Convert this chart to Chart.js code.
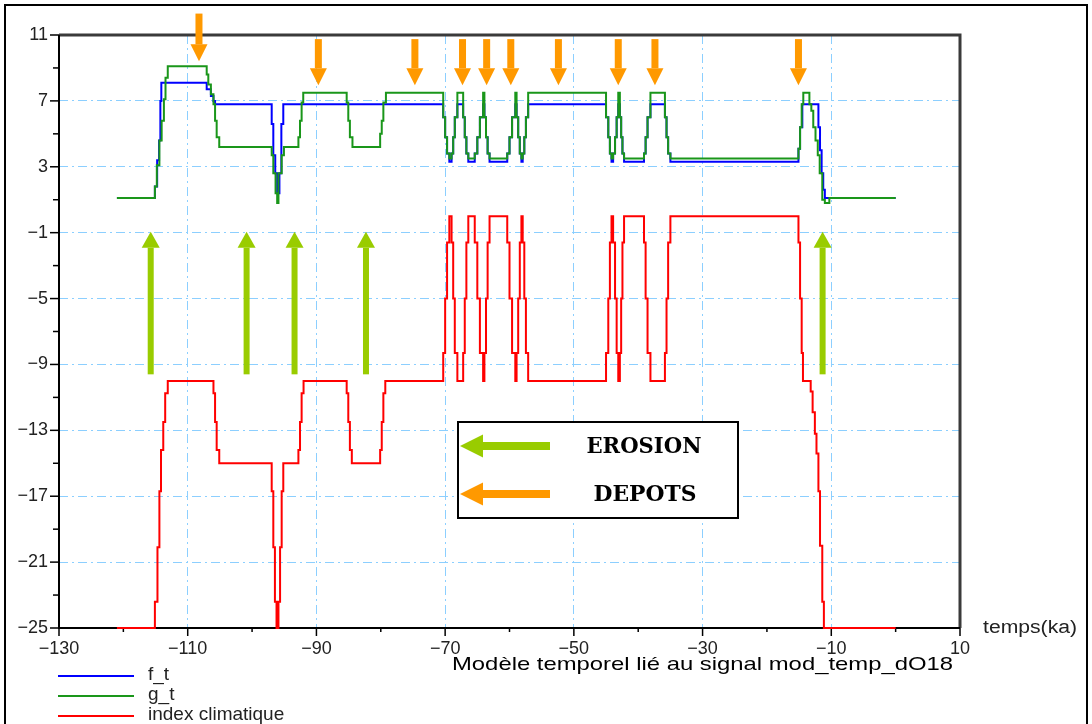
<!DOCTYPE html>
<html>
<head>
<meta charset="utf-8">
<title>Modèle temporel lié au signal mod_temp_dO18</title>
<script src="https://cdn.jsdelivr.net/npm/chart.js@4.4.1/dist/chart.umd.min.js"></script>
<style>
  html, body { margin: 0; padding: 0; background: #fff; }
  #wrap { width: 1092px; height: 724px; position: relative; }
</style>
</head>
<body>
<div id="wrap"><canvas id="chart" width="1092" height="724"></canvas></div>
<script>

// index climatique (red), step breakpoints: value holds from t until next t
const idxT = [-121, -115.1, -114.7, -114.4, -114.15, -113.8, -113.5, -113.1,
    -106.0, -105.75, -105.5, -105.1, -96.95, -96.7, -96.45, -96.2, -95.9, -95.65, -95.4, -95.15,
    -92.8, -92.55, -92.3, -92.0, -85.3, -85.05, -84.8, -84.5, -80.1, -79.85, -79.6, -79.3,
    -70.3, -70.0, -69.7, -69.35, -69.0, -68.75, -68.5, -68.1,
    -67.2, -66.95, -66.7, -66.4, -65.4, -65.0, -64.6, -64.1, -63.9, -63.65, -63.4, -63.1,
    -60.35, -60.0, -59.6, -59.1, -58.9, -58.65, -58.4, -58.15, -57.95, -57.7, -57.45, -57.1,
    -45.0, -44.65, -44.4, -44.15, -43.9, -43.6, -43.35, -43.1, -42.85, -42.65, -42.45, -42.2,
    -39.1, -38.85, -38.55, -38.1, -35.85, -35.6, -35.35, -35.0,
    -15.1, -14.85, -14.6, -14.4, -13.2, -12.9, -12.55, -12.3, -12.0, -11.75, -11.4, -11.15, 0]
const idxV = [-25, -23.4, -20.1, -16.7, -14.2, -12.5, -10.75, -10,
    -10.75, -12.5, -14.2, -15, -16.7, -20.1, -23.4, -25, -23.4, -20.1, -16.7, -15,
    -14.2, -12.5, -10.75, -10, -10.75, -12.5, -14.2, -15, -14.2, -12.5, -10.75, -10,
    -8.3, -5, -1.6, 0, -1.6, -5, -8.3, -10,
    -8.3, -5, -1.6, 0, -1.6, -5, -8.3, -10, -8.3, -5, -1.6, 0,
    -1.6, -5, -8.3, -10, -8.3, -5, -1.6, 0, -1.6, -5, -8.3, -10,
    -8.3, -5, -1.6, 0, -1.6, -5, -8.3, -10, -8.3, -5, -1.6, 0,
    -1.6, -5, -8.3, -10, -8.3, -5, -1.6, 0,
    -1.6, -5, -8.3, -10, -10.65, -11.9, -13.2, -14.4, -16.7, -20.0, -23.4, -25, -25]

// g_t (green)
const gT = [-121, -115.1, -114.8, -114.4, -114.05, -113.7, -113.45, -113.1,
    -107.05, -106.8, -106.4, -106.0, -105.75, -105.5, -105.1,
    -96.95, -96.7, -96.35, -96.1, -95.9, -95.4, -95.05,
    -92.8, -92.55, -92.3, -92.05, -85.3, -85.05, -84.8, -84.4, -80.1, -79.85, -79.6, -79.2,
    -70.3, -70.0, -69.7, -69.35, -69.0, -68.75, -68.5, -68.1,
    -67.2, -66.95, -66.7, -66.4, -65.4, -65.0, -64.6, -64.1, -63.9, -63.65, -63.4, -63.1,
    -60.35, -60.0, -59.6, -59.1, -58.9, -58.65, -58.4, -58.15, -57.95, -57.7, -57.45, -57.1,
    -45.0, -44.65, -44.4, -44.15, -43.9, -43.6, -43.35, -43.1, -42.85, -42.65, -42.45, -42.2,
    -39.1, -38.85, -38.55, -38.1, -35.85, -35.6, -35.35, -35.0,
    -15.1, -14.85, -14.6, -14.35, -13.4, -13.1, -12.8, -12.45, -12.1, -11.8, -11.4, -11.0, -10.3, 0]
const gV = [1.1, 1.8, 3.1, 4.6, 5.8, 7.1, 8.4, 9.1,
    8.6, 8.0, 7.4, 6.8, 5.8, 4.8, 4.2,
    3.7, 2.6, 1.4, 0.8, 2.6, 3.7, 4.2,
    4.8, 5.8, 6.9, 7.5, 6.9, 5.8, 4.8, 4.2, 5.0, 5.8, 6.9, 7.5,
    6.0, 4.8, 3.8, 3.5, 3.8, 4.8, 6.0, 7.5,
    6.0, 4.8, 3.8, 3.5, 3.8, 4.8, 6.0, 7.5, 6.0, 4.8, 3.8, 3.5,
    3.8, 4.8, 6.0, 7.5, 6.0, 4.8, 3.8, 3.5, 3.8, 4.8, 6.0, 7.5,
    6.0, 4.8, 3.8, 3.5, 3.8, 4.8, 6.0, 7.5, 6.0, 4.8, 3.8, 3.5,
    3.8, 4.8, 6.0, 7.5, 6.0, 4.8, 3.8, 3.5,
    4.1, 5.4, 6.8, 7.5, 6.8, 6.4, 5.4, 4.6, 3.7, 2.6, 1.0, 0.8, 1.1, 1.1]

// f_t (blue)
const fT = [-121, -115.1, -114.75, -114.45, -114.25, -114.1,
    -107.05, -106.4, -106.0, -105.75,
    -96.95, -96.7, -96.4, -96.1, -95.75, -95.45, -95.15,
    -70.3, -70.0, -69.7, -69.35, -69.0, -68.75, -68.5, -68.1,
    -67.2, -66.95, -66.7, -66.4, -65.4, -65.0, -64.6, -64.1, -63.9, -63.65, -63.4, -63.1,
    -60.35, -60.0, -59.6, -59.1, -58.9, -58.65, -58.4, -58.15, -57.95, -57.7, -57.45, -57.1,
    -45.0, -44.65, -44.4, -44.15, -43.9, -43.6, -43.35, -43.1, -42.85, -42.65, -42.45, -42.2,
    -39.1, -38.85, -38.55, -38.1, -35.85, -35.6, -35.35, -35.0,
    -15.1, -14.85, -14.5, -12.0, -11.75, -11.5, -11.25, -11.0, 0]
const fV = [1.1, 1.8, 3.4, 4.6, 7.0, 8.1,
    7.7, 7.3, 7.0, 6.8,
    5.6, 3.7, 2.6, 1.4, 2.6, 5.6, 6.8,
    6.0, 4.8, 3.8, 3.3, 3.8, 4.8, 6.0, 6.8,
    6.0, 4.8, 3.8, 3.3, 3.8, 4.8, 6.0, 6.8, 6.0, 4.8, 3.8, 3.3,
    3.8, 4.8, 6.0, 6.8, 6.0, 4.8, 3.8, 3.3, 3.8, 4.8, 6.0, 6.8,
    6.0, 4.8, 3.8, 3.3, 3.8, 4.8, 6.0, 6.8, 6.0, 4.8, 3.8, 3.3,
    3.8, 4.8, 6.0, 6.8, 6.0, 4.8, 3.8, 3.3,
    4.1, 5.4, 6.8, 5.4, 4.0, 2.6, 1.6, 1.1, 1.1]

// arrows: DEPOTS (orange, pointing down) and EROSION (green, pointing up)
const depotT = [-108.25, -89.7, -74.7, -67.3, -63.55, -59.8, -52.4, -43.1, -37.4, -15.1]
const depotTop = [12.3, 10.75, 10.75, 10.75, 10.75, 10.75, 10.75, 10.75, 10.75, 10.75]
const depotTip = [9.4, 7.95, 7.95, 7.95, 7.95, 7.95, 7.95, 7.95, 7.95, 7.95]
const erosionT = [-115.75, -100.85, -93.4, -82.3, -11.35]
const erosionTail = -9.6
const erosionTip = -0.95

const seriesNames = ["f_t", "g_t", "index climatique"]
const seriesColors = ["#0000ff", "#1a961a", "#ff0000"]

const toPoints = (ts, vs) => ts.map((t, i) => ({ x: t, y: vs[i] }))

const minus = (v) => v < 0 ? "\u2212" + Math.abs(v) : String(v)
const xLabeled = (v) => (v + 130) % 20 === 0
const yLabeled = (v) => (v - 11) % 4 === 0

// vertical block arrow
const drawVArrow = (ctx, x, yTail, yTip, shaft, headW, headLen, color) => {
    const dir = yTip > yTail ? 1 : -1
    const yBase = yTip - dir * headLen
    ctx.fillStyle = color
    ctx.fillRect(x - shaft / 2, Math.min(yTail, yBase), shaft, Math.abs(yBase - yTail))
    ctx.beginPath()
    ctx.moveTo(x - headW / 2, yBase)
    ctx.lineTo(x + headW / 2, yBase)
    ctx.lineTo(x, yTip)
    ctx.closePath()
    ctx.fill()
}

// left pointing block arrow
const drawLArrow = (ctx, xTip, xTail, y, shaft, headH, headLen, color) => {
    ctx.fillStyle = color
    ctx.fillRect(xTip + headLen, y - shaft / 2, xTail - xTip - headLen, shaft)
    ctx.beginPath()
    ctx.moveTo(xTip + headLen, y - headH / 2)
    ctx.lineTo(xTip + headLen, y + headH / 2)
    ctx.lineTo(xTip, y)
    ctx.closePath()
    ctx.fill()
}

// text squeezed/stretched to a given width
const fitText = (ctx, text, x, y, width, align) => {
    const w = ctx.measureText(text).width
    ctx.save()
    ctx.translate(x, y)
    ctx.scale(width / w, 1)
    ctx.textAlign = align
    ctx.fillText(text, 0, 0)
    ctx.restore()
}

const decorPlugin = {
    id: "decor",
    // axes and frame go under the curves, like in the original plot
    beforeDatasetsDraw: (chart) => {
        const ctx = chart.ctx
        const xs = chart.scales.x
        const ys = chart.scales.y
        const area = chart.chartArea

        ctx.save()
        ctx.strokeStyle = "#3a3a3a"
        ctx.lineWidth = 3
        ctx.beginPath()
        ctx.moveTo(area.left, area.top)
        ctx.lineTo(area.right, area.top)
        ctx.lineTo(area.right, area.bottom)
        ctx.stroke()
        ctx.strokeStyle = "#000"
        ctx.lineWidth = 2
        ctx.beginPath()
        ctx.moveTo(area.left, area.top)
        ctx.lineTo(area.left, area.bottom)
        ctx.lineTo(area.right, area.bottom)
        ctx.stroke()

        // tick marks
        ctx.lineWidth = 1.5
        ys.ticks.forEach((tk) => {
            const y = ys.getPixelForValue(tk.value)
            const len = yLabeled(tk.value) ? 9 : 6
            ctx.beginPath()
            ctx.moveTo(area.left - len, y)
            ctx.lineTo(area.left, y)
            ctx.stroke()
        })
        xs.ticks.forEach((tk) => {
            const x = xs.getPixelForValue(tk.value)
            const len = xLabeled(tk.value) ? 8 : 4
            ctx.beginPath()
            ctx.moveTo(x, area.bottom)
            ctx.lineTo(x, area.bottom + len)
            ctx.stroke()
        })
        ctx.restore()
    },
    afterDatasetsDraw: (chart) => {
        const ctx = chart.ctx
        const xs = chart.scales.x
        const ys = chart.scales.y

        ctx.save()

        // orange arrows at the top
        depotT.forEach((t, i) => {
            drawVArrow(ctx, xs.getPixelForValue(t), ys.getPixelForValue(depotTop[i]),
                ys.getPixelForValue(depotTip[i]), 7, 17, 17, "#ff9900")
        })

        // green arrows
        erosionT.forEach((t) => {
            drawVArrow(ctx, xs.getPixelForValue(t), ys.getPixelForValue(erosionTail),
                ys.getPixelForValue(erosionTip), 6, 18, 16, "#99cc00")
        })

        // EROSION / DEPOTS box
        ctx.fillStyle = "#fff"
        ctx.fillRect(458, 422, 280, 96)
        ctx.strokeStyle = "#000"
        ctx.lineWidth = 2
        ctx.strokeRect(458, 422, 280, 96)
        drawLArrow(ctx, 460, 550, 446, 8, 23, 23, "#99cc00")
        drawLArrow(ctx, 460, 550, 494, 8, 23, 23, "#ff9900")
        ctx.fillStyle = "#000"
        ctx.font = "bold 22px 'DejaVu Serif'"
        ctx.textBaseline = "middle"
        fitText(ctx, "EROSION", 644, 447, 115, "center")
        fitText(ctx, "DEPOTS", 645, 495, 103, "center")

        // axis title and caption
        ctx.font = "18px 'Liberation Sans'"
        ctx.fillStyle = "#222"
        fitText(ctx, "temps(ka)", 983, 628, 94, "left")
        ctx.font = "19px 'Liberation Sans'"
        ctx.fillStyle = "#000"
        fitText(ctx, "Modèle temporel lié au signal mod_temp_dO18", 452, 665, 501, "left")

        // legend
        ctx.font = "19px 'Liberation Sans'"
        ctx.fillStyle = "#222"
        const legendY = [676, 696, 716]
        seriesNames.forEach((name, i) => {
            ctx.strokeStyle = seriesColors[i]
            ctx.lineWidth = 2
            ctx.beginPath()
            ctx.moveTo(58, legendY[i])
            ctx.lineTo(134, legendY[i])
            ctx.stroke()
            ctx.textAlign = "left"
            ctx.fillText(name, 148, legendY[i] - 1)
        })

        // outer frame of the figure
        ctx.strokeStyle = "#000"
        ctx.lineWidth = 2
        ctx.strokeRect(5, 5, 1082, 740)

        ctx.restore()
    }
}

const chartCtx = document.getElementById("chart")

const climateChart = new Chart(chartCtx, {
    type: "line",
    data: {
        datasets: [
            {
                label: seriesNames[1],
                data: toPoints(gT, gV),
                borderColor: seriesColors[1],
                stepped: true,
                clip: false,
                order: 0
            },
            {
                label: seriesNames[0],
                data: toPoints(fT, fV),
                borderColor: seriesColors[0],
                stepped: true,
                clip: false,
                order: 1
            },
            {
                label: seriesNames[2],
                data: toPoints(idxT, idxV),
                borderColor: seriesColors[2],
                stepped: true,
                clip: false,
                order: 2
            }
        ]
    },
    options: {
        responsive: false,
        animation: false,
        layout: { padding: { left: 0, top: 35, right: 132, bottom: 0 } },
        elements: {
            point: { radius: 0 },
            line: { borderWidth: 2, tension: 0 }
        },
        plugins: {
            legend: { display: false },
            tooltip: { enabled: false }
        },
        scales: {
            x: {
                type: "linear",
                min: -130,
                max: 10,
                afterFit: (s) => { s.height = 96 },
                ticks: {
                    stepSize: 10,
                    autoSkip: false,
                    maxRotation: 0,
                    padding: 10,
                    color: "#222",
                    font: { family: "Liberation Sans", size: 18 },
                    callback: (v) => xLabeled(v) ? minus(v) : ""
                },
                grid: {
                    drawTicks: false,
                    lineWidth: 1,
                    color: (c) => xLabeled(c.tick.value) && c.tick.value > -130 && c.tick.value < 10 ? "#8ccfff" : "rgba(0,0,0,0)"
                },
                border: { display: false, dash: [9, 4, 2, 4] }
            },
            y: {
                type: "linear",
                min: -25,
                max: 11,
                afterFit: (s) => { s.width = 59 },
                ticks: {
                    stepSize: 2,
                    autoSkip: false,
                    padding: 11,
                    color: "#222",
                    font: { family: "Liberation Sans", size: 18 },
                    callback: (v) => yLabeled(v) ? minus(v) : ""
                },
                grid: {
                    drawTicks: false,
                    lineWidth: 1,
                    color: (c) => yLabeled(c.tick.value) && c.tick.value > -25 && c.tick.value < 11 ? "#8ccfff" : "rgba(0,0,0,0)"
                },
                border: { display: false, dash: [9, 4, 2, 4] }
            }
        }
    },
    plugins: [decorPlugin]
})
</script>
</body>
</html>
